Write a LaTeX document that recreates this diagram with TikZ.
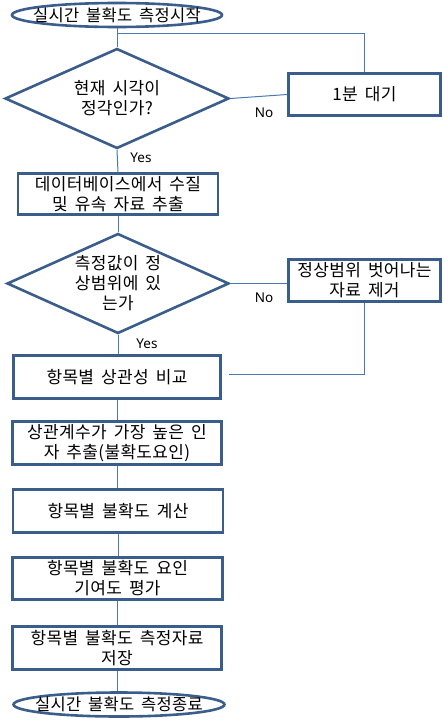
\documentclass[tikz,border=0pt]{standalone}
\usepackage{fontspec}
\setmainfont{Noto Sans CJK KR}[WordSpace=1.7, LetterSpace=2]
\newfontfamily\lblfont{Noto Sans}
\usetikzlibrary{shapes.geometric}
\definecolor{bord}{HTML}{3A5D8C}
\definecolor{conn}{HTML}{4A78B0}
\newcommand{\lowtxt}[1]{\raisebox{-3pt}[6pt][0pt]{#1}}
\tikzset{
  txt/.style={font=\fontsize{17}{20}\selectfont},
  procbox/.style={txt, draw=bord, line width=2.6pt, rectangle, inner sep=0pt, align=center},
  termbox/.style={font=\fontsize{16.5}{20}\selectfont, draw=bord, line width=2.6pt, ellipse, inner xsep=-30pt, inner ysep=0pt, align=center},
  decbox/.style={txt, draw=bord, line width=2.6pt, diamond, inner sep=0pt, align=center},
  lbl/.style={font=\lblfont\fontsize{13.5}{15}\selectfont, inner sep=0pt},
  conline/.style={draw=conn, line width=1pt}
}
\begin{document}
\begin{tikzpicture}[x=1pt,y=-1pt]
\useasboundingbox (0,0) rectangle (444,720);
\node[termbox, minimum width=210pt, minimum height=24pt] (start) at (117,15) {\lowtxt{실시간 불확도 측정시작}};
\node[decbox, minimum width=224pt, minimum height=100pt, aspect=2.24] (d1) at (117,98.5) {현재 시각이\\정각인가?};
\node[procbox, minimum width=152pt, minimum height=42pt] (wait) at (364.5,94.5) {1분 대기};
\node[procbox, minimum width=200pt, minimum height=41pt] (b2) at (118,194) {데이터베이스에서 수질\\및 유속 자료 추출};
\node[decbox, minimum width=222pt, minimum height=100pt, aspect=2.22] (d2) at (118,283.5) {측정값이 정\\상범위에 있\\는가};
\node[procbox, minimum width=152pt, minimum height=42pt] (rm) at (364.5,280.5) {정상범위 벗어나는\\자료 제거};
\node[procbox, minimum width=207pt, minimum height=43pt] (b3) at (117,377) {항목별 상관성 비교};
\node[procbox, minimum width=209pt, minimum height=43pt] (b4) at (117,443) {상관계수가 가장 높은 인\\자 추출(불확도요인)};
\node[procbox, minimum width=210pt, minimum height=43pt] (b5) at (118,511) {항목별 불확도 계산};
\node[procbox, minimum width=210pt, minimum height=42pt] (b6) at (117.5,578.5) {항목별 불확도 요인\\기여도 평가};
\node[procbox, minimum width=209pt, minimum height=43pt] (b7) at (117,648) {항목별 불확도 측정자료\\저장};
\node[termbox, minimum width=211pt, minimum height=24pt] (end) at (119,704.5) {\lowtxt{실시간 불확도 측정종료}};
\coordinate (j1) at (117,33);
\path[conline] (start.south) -- (d1.north);
\path[conline] (wait.north) |- (j1);
\path[conline] (d1.east) -- (wait.west);
\path[conline] (d1.south) -- (b2.north);
\path[conline] (b2.south) -- (b2.south |- d2.north);
\path[conline] (d2.east) -- (d2.east -| rm.west);
\path[conline] (d2.south) -- (d2.south |- b3.north);
\path[conline, shorten >=7pt] (rm.south) |- ([yshift=3pt]b3.east);
\path[conline] (b3.south) -- (b3.south |- b4.north);
\path[conline] (b4.south) -- (b4.south |- b5.north);
\path[conline] (b5.south) -- (b5.south |- b6.north);
\path[conline] (b6.south) -- (b6.south |- b7.north);
\path[conline] (b7.south) -- (b7.south |- end.north);
\node[lbl] (no1) at (264,113) {No};
\node[lbl] (yes1) at (141,158) {Yes};
\node[lbl] (no2) at (264,298) {No};
\node[lbl] (yes2) at (147,344) {Yes};
\end{tikzpicture}
\end{document}
